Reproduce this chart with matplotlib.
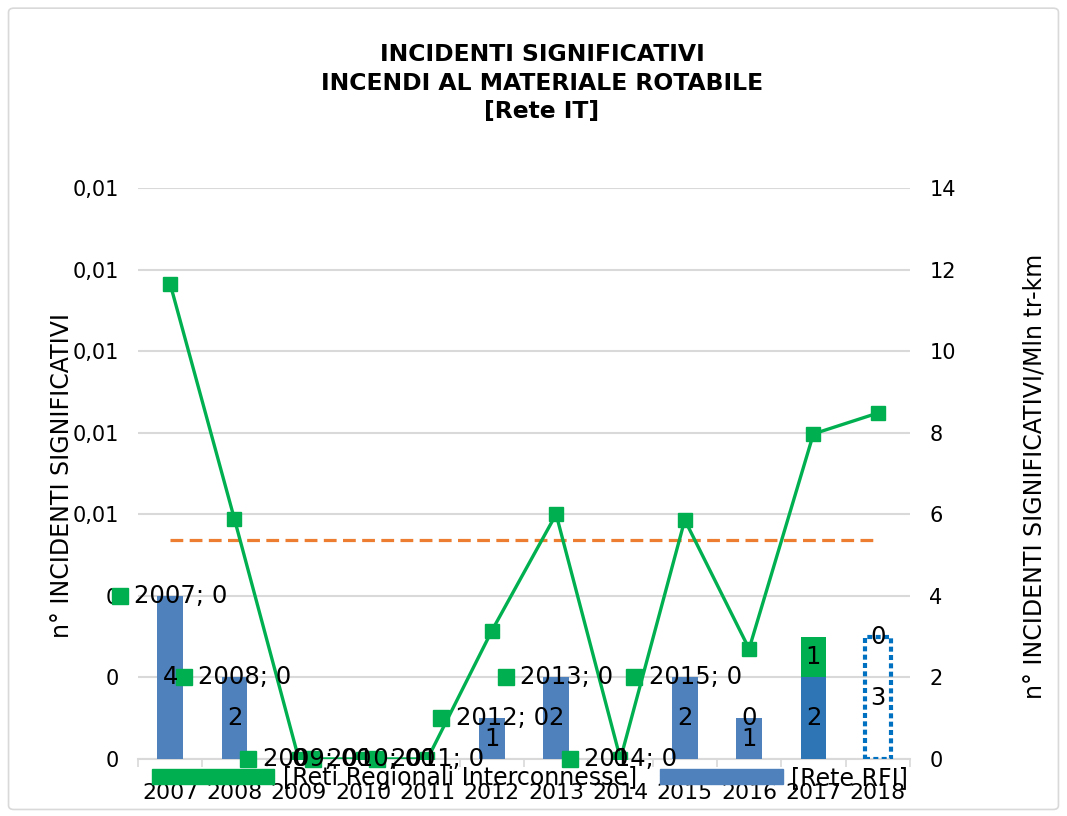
import numpy as np
import matplotlib
matplotlib.use("Agg")
import matplotlib.pyplot as plt
from matplotlib.patches import Patch, FancyBboxPatch
from matplotlib.transforms import offset_copy

years = ['2007', '2008', '2009', '2010', '2011', '2012',
         '2013', '2014', '2015', '2016', '2017', '2018']
rete_rfi = [4, 2, 0, 0, 0, 1, 2, 0, 2, 1, 2, 3]
reti_regionali = [0, 0, 0, 0, 0, 0, 0, 0, 0, 0, 1, 0]
tasso = [11.65, 5.88, 0, 0, 0, 3.14, 6.0, 0, 5.86, 2.70, 7.97, 8.48]
riferimento = [5.37] * 12
left_ticks = [0, 0.002, 0.004, 0.006, 0.008, 0.010, 0.012, 0.014]
right_ticks = [0, 2, 4, 6, 8, 10, 12, 14]

BLUE = '#4F81BD'
BLUE_17 = '#2E75B6'
GREEN = '#00B050'
ORANGE = '#ED7D31'
GRID = '#D9D9D9'

fig = plt.figure(figsize=(10.67, 8.16), dpi=100)
fig.patches.append(FancyBboxPatch((0.008, 0.008), 0.984, 0.982,
                                  boxstyle='round,pad=0,rounding_size=0.005',
                                  transform=fig.transFigure, fill=False,
                                  edgecolor=GRID, linewidth=1.2))

ax = fig.add_axes([0.1293, 0.0699, 0.7235, 0.6998])
ax2 = ax.twinx()

x = np.arange(len(years))

# left axis (only ticks and grid)
ax.set_ylim(0, 0.014)
ax.set_yticks(left_ticks)
ax.set_yticklabels(['0' if f'{v:.2f}' == '0.00' else f'{v:.2f}'.replace('.', ',')
                    for v in left_ticks])
ax.grid(axis='y', color=GRID, linewidth=1.5)
ax.set_axisbelow(True)
ax.tick_params(axis='y', length=0, pad=14, labelsize=15)
ax.set_xlim(-0.5, len(years) - 0.5)
ax.set_xticks(x)
ax.set_xticklabels(years)
ax.tick_params(axis='x', which='major', length=0, pad=17, labelsize=15.8)
ax.set_xticks(np.arange(-0.5, len(years), 1), minor=True)
ax.tick_params(axis='x', which='minor', length=6, color=GRID, width=1.2)
for s in ['top', 'left', 'right']:
    ax.spines[s].set_visible(False)
ax.spines['bottom'].set_color(GRID)
ax.spines['bottom'].set_linewidth(1.5)

# right axis: bars and lines
ax2.set_ylim(0, 14)
ax2.set_yticks(right_ticks)
ax2.tick_params(axis='y', length=0, pad=14, labelsize=15)
for s in ax2.spines.values():
    s.set_visible(False)

w = 0.4
blue_colors = [BLUE] * 10 + [BLUE_17, BLUE]
for i in range(len(years)):
    if years[i] == '2018':
        ax2.bar(x[i], rete_rfi[i], width=w, fill=False, edgecolor='#0070C0',
                linewidth=3, linestyle=(0, (1.2, 0.8)))
    else:
        ax2.bar(x[i], rete_rfi[i], width=w, color=blue_colors[i])
ax2.bar(x, reti_regionali, width=w, bottom=rete_rfi, color=GREEN)

ax2.plot(x, riferimento, color=ORANGE, linewidth=2.3, linestyle=(0, (4, 2)))
ax2.plot(x, tasso, color=GREEN, linewidth=2.4, marker='s', markersize=9.5)

# data labels
for i in range(len(years)):
    ax2.text(x[i], rete_rfi[i] / 2, str(rete_rfi[i]), ha='center', va='center',
             fontsize=17.5)
    top = rete_rfi[i] + reti_regionali[i]
    if i <= 8:
        tr_m = offset_copy(ax2.transData, fig=fig, x=-36.4, y=0, units='points')
        tr_t = offset_copy(ax2.transData, fig=fig, x=-25.9, y=0, units='points')
        ax2.plot(x[i], top, transform=tr_m, marker='s', markersize=12,
                 color=GREEN, linestyle='none', clip_on=False)
        ax2.text(x[i], top, f'{years[i]}; {reti_regionali[i]}', transform=tr_t,
                 ha='left', va='center', fontsize=17.5)
    elif reti_regionali[i] > 0:
        ax2.text(x[i], rete_rfi[i] + reti_regionali[i] / 2, str(reti_regionali[i]),
                 ha='center', va='center', fontsize=17.5)
    else:
        ax2.text(x[i], top, str(reti_regionali[i]), ha='center', va='center',
                 fontsize=17.5)

fig.legend(handles=[Patch(color=GREEN, label='[Reti Regionali Interconnesse]'),
                    Patch(color=BLUE, label='[Rete RFI]')],
           loc='center', bbox_to_anchor=(530 / 1067, 1 - 778 / 816), ncol=2,
           frameon=False, fontsize=17, handlelength=5.2, handleheight=0.6,
           handletextpad=0.35, columnspacing=1.0, borderpad=0)

fig.text(542 / 1067, 1 - 83 / 816,
         'INCIDENTI SIGNIFICATIVI\nINCENDI AL MATERIALE ROTABILE\n[Rete IT]',
         ha='center', va='center', fontsize=16.9, fontweight='bold', linespacing=1.3)
fig.text(62 / 1067, 1 - 475 / 816, 'n° INCIDENTI SIGNIFICATIVI', rotation=90,
         ha='center', va='center', fontsize=17)
fig.text(1035 / 1067, 1 - 476 / 816, 'n° INCIDENTI SIGNIFICATIVI/Mln tr-km',
         rotation=90, ha='center', va='center', fontsize=17)

fig.savefig('out.png', dpi=100)
